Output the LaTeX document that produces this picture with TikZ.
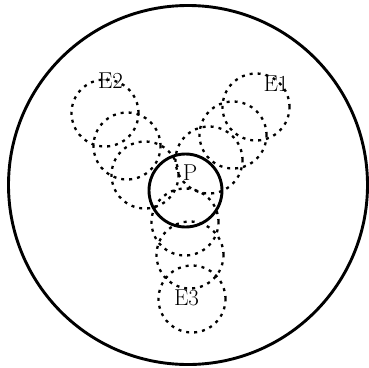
\documentclass[tikz,border=0pt]{standalone}
\usepackage{fontspec}

\begin{document}
\begin{tikzpicture}[x=1pt, y=-1pt]
    \tikzset{ball/.style={line width=2.3pt, dash pattern=on 3pt off 5pt},
             lbl/.style={font=\fontsize{23}{26}\selectfont, inner sep=0pt}}
    \useasboundingbox (0,0) rectangle (369,367);

    % Define the centres of the circles
    \coordinate (O) at (188,185);
    \coordinate (P) at (185.5,190.5);
    \coordinate (A1) at (256,107);
    \coordinate (A2) at (233,135);
    \coordinate (A3) at (209,160);
    \coordinate (B1) at (105,113);
    \coordinate (B2) at (127,146);
    \coordinate (B3) at (145,175);
    \coordinate (C1) at (192,299);
    \coordinate (C2) at (190,255);
    \coordinate (C3) at (185,222);

    % Draw the big region and the small ball
    \draw[line width=2.9pt] (O) circle (179.5pt);
    \draw[line width=2.9pt] (P) circle (36.5pt);

    % Draw the three chains of balls
    \foreach \c in {A1,A2,A3,B1,B2,B3,C1,C2,C3}
        \draw[ball] (\c) circle (33.5pt);

    % Place the labels
    \node (Plbl) at (190,172.5) [lbl] {P};
    \node (E1) at (276,83.5) [lbl] {E1};
    \node (E2) at (110.5,81) [lbl] {E2};
    \node (E3) at (186.5,298) [lbl] {E3};
\end{tikzpicture}
\end{document}
